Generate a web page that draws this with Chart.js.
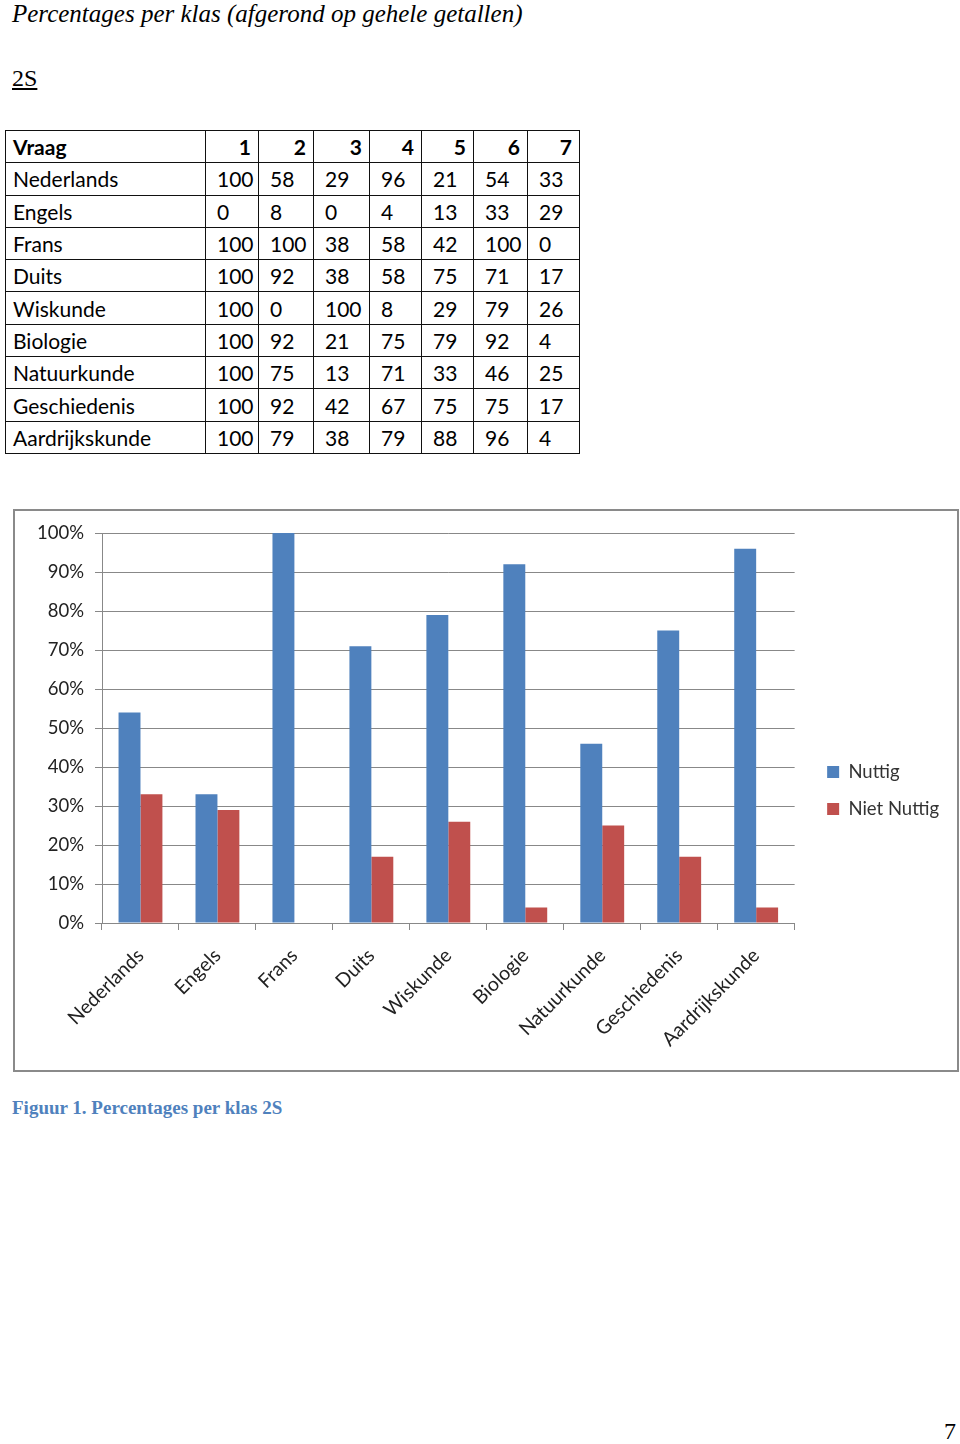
<!DOCTYPE html>
<html>
<head>
<meta charset="utf-8">
<script src="https://cdn.jsdelivr.net/npm/chart.js@4.4.1/dist/chart.umd.min.js"></script>
<style>
  body { margin: 0; width: 960px; height: 1444px; position: relative; background: #fff; font-family: "Liberation Serif", serif; color: #000; }
  .title { position: absolute; left: 12px; top: 0; font-style: italic; font-size: 25px; line-height: 28px; }
  .klas { position: absolute; left: 12px; top: 64px; font-size: 24px; line-height: 28px; text-decoration: underline; }
  table { position: absolute; left: 5px; top: 130px; border-collapse: collapse; font-family: Lato, sans-serif; font-size: 21px; }
  td { border: 1.5px solid #111; height: 32.3px; padding: 0 0 0 11px; box-sizing: border-box; }
  td:first-child { padding-left: 7px; }
  tr.head td { font-weight: bold; text-align: right; padding: 0 7px 0 0; }
  tr.head td:first-child { text-align: left; padding-left: 7px; }
  .box { position: absolute; left: 13px; top: 509px; width: 946px; height: 563px; border: 2px solid #8a8a8a; box-sizing: border-box; }
  .wrap { position: relative; width: 942px; height: 559px; }
  .caption { position: absolute; left: 12px; top: 1097px; font-weight: bold; font-size: 19px; color: #4F81BD; }
  .page { position: absolute; left: 944px; top: 1418px; font-size: 24px; }
</style>
</head>
<body>
<div class="title">Percentages per klas (afgerond op gehele getallen)</div>
<div class="klas">2S</div>
<table id="tbl"></table>
<div class="box"><div class="wrap"><canvas id="barChart"></canvas></div></div>
<div class="caption">Figuur 1. Percentages per klas 2S</div>
<div class="page">7</div>
<script>
const vragen = [1, 2, 3, 4, 5, 6, 7];
const vakken = ['Nederlands', 'Engels', 'Frans', 'Duits', 'Wiskunde', 'Biologie', 'Natuurkunde', 'Geschiedenis', 'Aardrijkskunde'];
const scores = [
  [100, 58, 29, 96, 21, 54, 33],
  [0, 8, 0, 4, 13, 33, 29],
  [100, 100, 38, 58, 42, 100, 0],
  [100, 92, 38, 58, 75, 71, 17],
  [100, 0, 100, 8, 29, 79, 26],
  [100, 92, 21, 75, 79, 92, 4],
  [100, 75, 13, 71, 33, 46, 25],
  [100, 92, 42, 67, 75, 75, 17],
  [100, 79, 38, 79, 88, 96, 4]
];
const colWidths = [200, 53, 55, 56, 52, 52, 54, 52];

// chart series
const nuttig = [54, 33, 100, 71, 79, 92, 46, 75, 96];
const nietNuttig = [33, 29, 0, 17, 26, 4, 25, 17, 4];

document.addEventListener('DOMContentLoaded', () => {
  // Table
  const tbl = document.getElementById('tbl');
  let html = '<tr class="head"><td style="width:' + colWidths[0] + 'px">Vraag</td>';
  vragen.forEach((v, i) => { html += '<td style="width:' + colWidths[i + 1] + 'px">' + v + '</td>'; });
  html += '</tr>';
  vakken.forEach((vak, r) => {
    html += '<tr><td>' + vak + '</td>';
    scores[r].forEach(s => { html += '<td>' + s + '</td>'; });
    html += '</tr>';
  });
  tbl.innerHTML = html;

  // Bar Chart
  const barCtx = document.getElementById('barChart').getContext('2d');
  new Chart(barCtx, {
    type: 'bar',
    data: {
      labels: vakken,
      datasets: [
        { label: 'Nuttig', data: nuttig, backgroundColor: '#4F81BD' },
        { label: 'Niet Nuttig', data: nietNuttig, backgroundColor: '#C0504D' }
      ]
    },
    options: {
      responsive: true,
      maintainAspectRatio: false,
      animation: false,
      categoryPercentage: 0.57,
      barPercentage: 1,
      layout: {
        padding: { top: 21, right: 8, bottom: 21, left: 0 }
      },
      plugins: {
        legend: {
          position: 'right',
          align: 'center',
          labels: {
            boxWidth: 12,
            boxHeight: 12,
            padding: 18.5,
            color: '#333',
            font: { family: 'Lato', size: 18.5 }
          }
        },
        tooltip: { enabled: false }
      },
      scales: {
        x: {
          grid: {
            offset: true,
            drawOnChartArea: false,
            tickLength: 7,
            color: '#888'
          },
          border: { color: '#888' },
          ticks: {
            minRotation: 45,
            maxRotation: 45,
            padding: 14,
            color: '#222',
            font: { family: 'Lato', size: 19.5 }
          },
          afterFit: (s) => { s.height = 126; }
        },
        y: {
          min: 0,
          max: 100,
          grid: {
            color: '#888',
            tickLength: 7
          },
          border: { color: '#888' },
          ticks: {
            stepSize: 10,
            padding: 11,
            color: '#222',
            font: { family: 'Lato', size: 18.5 },
            callback: (v) => v + '%'
          },
          afterFit: (s) => { s.width = 87; }
        },
        y2: {
          position: 'right',
          grid: { display: false },
          border: { display: false },
          ticks: { display: false },
          afterFit: (s) => { s.width = 14; }
        }
      }
    }
  });
});
</script>
</body>
</html>
